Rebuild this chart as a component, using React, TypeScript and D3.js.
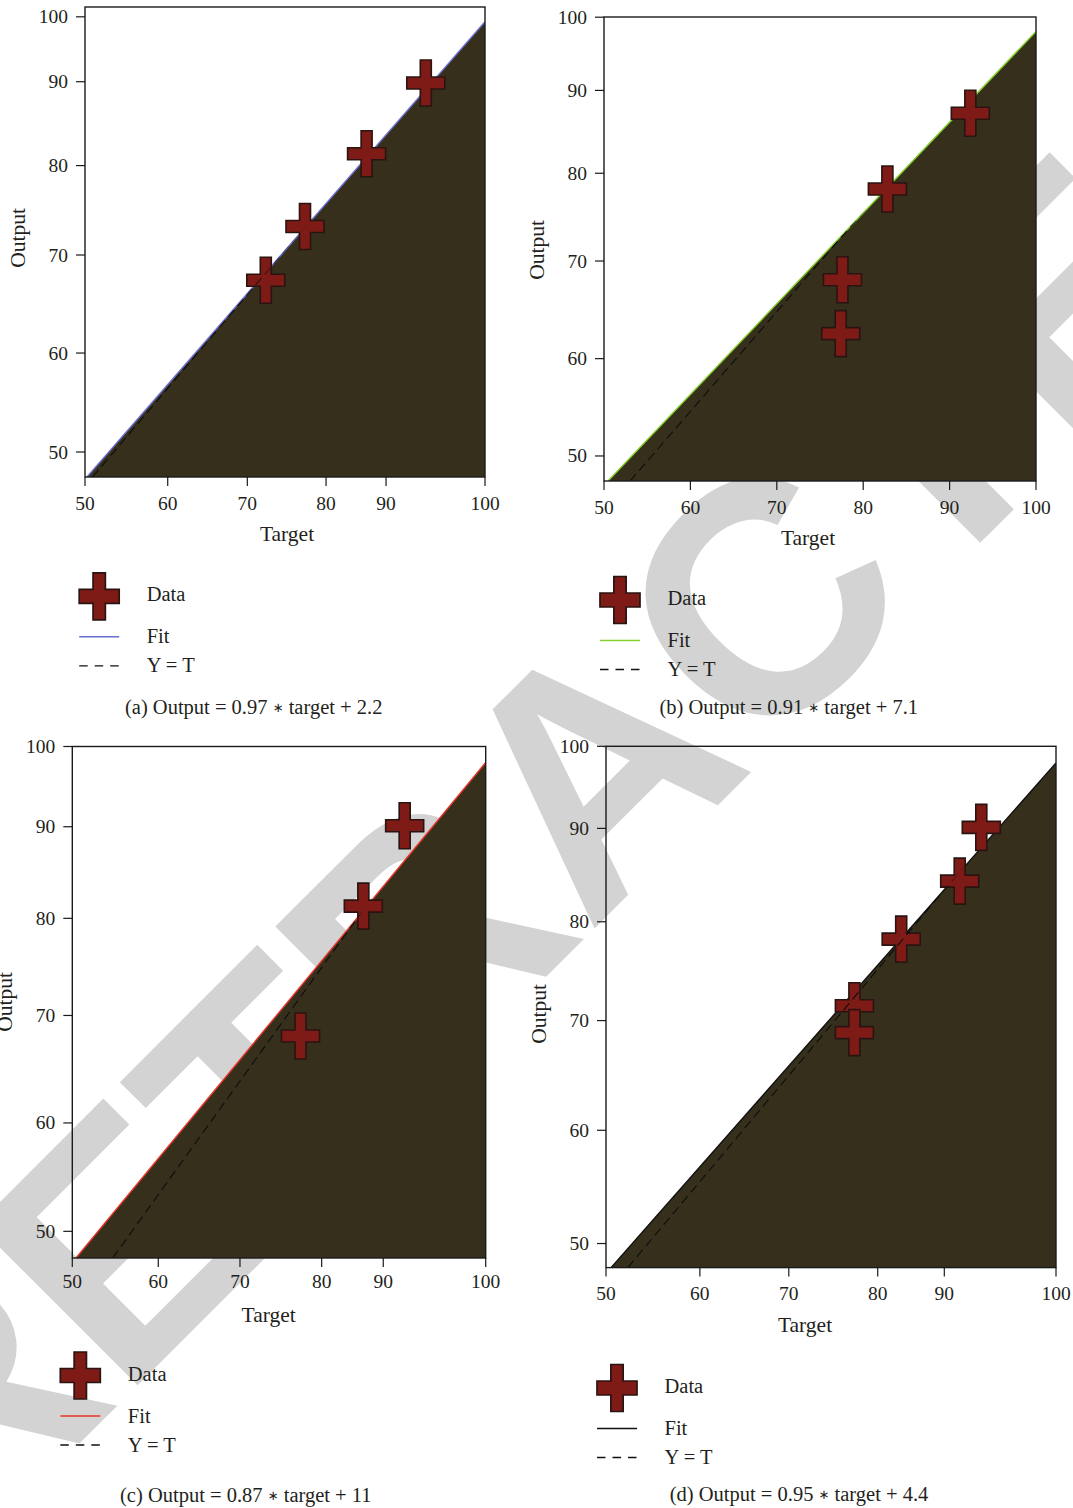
import React from 'react';
import * as d3 from 'd3';

// ---- Regression results for the four sub-figures ----
const panelKeys = ['a', 'b', 'c', 'd'];
const fitSlope = [0.97, 0.91, 0.87, 0.95];
const fitIntercept = [2.2, 7.1, 11, 4.4];

// Observed samples: target value and network output
const targetA = [72.6, 77.5, 85.2, 92.6];
const outputA = [71.8, 77.5, 85.2, 92.7];
const targetB = [92.4, 82.8, 77.6, 77.4];
const outputB = [89.9, 82.3, 73.2, 67.8];
const targetC = [90.2, 85.2, 77.6];
const outputC = [92.5, 85.5, 74.2];
const targetD = [91.7, 89.3, 82.8, 77.6, 77.6];
const outputD = [93.4, 88.4, 83.0, 76.8, 74.3];

// Axis extents in data units
const xExtent = [50, 100];
const yExtentA = [50.94, 100.76];
const yExtentB = [53.02, 99.55];
const yExtentC = [54.89, 99.39];
const yExtentD = [52.43, 100.95];

// Tick labels and the data value at which each label is printed
const tickLabels = ['50', '60', '70', '80', '90', '100'];
const xTickAtA = [50, 60.34, 70.29, 80.13, 87.63, 100];
const xTickAtB = [50, 60, 70, 80, 90, 100];
const xTickAtC = [50, 60.4, 70.28, 80.16, 87.61, 100];
const xTickAtD = [50, 60.43, 70.31, 80.19, 87.59, 100];
const yTickAtA = [53.59, 64.08, 74.47, 83.95, 92.84, 99.72];
const yTickAtB = [55.53, 65.29, 75.08, 83.88, 92.19, 99.53];
const yTickAtC = [57.21, 66.64, 75.99, 84.44, 92.41, 99.39];
const yTickAtD = [54.67, 65.21, 75.42, 84.62, 93.31, 100.95];

const legendLabels = ['Data', 'Fit', 'Y = T'];
const xTitle = 'Target';
const yTitle = 'Output';
const stamp = 'RETRACTED';

// ---- Layout and styling ----
const W = 1073;
const H = 1508;
const frames = [
  { left: 85, right: 485, top: 7, bottom: 477, titleX: 287, titleY: 238, legendX: 99.2, legendY: 596.3, captionX: 253.7, captionY: 706.7, xLabelGap: 26 },
  { left: 604, right: 1036, top: 17, bottom: 481, titleX: 808, titleY: 250, legendX: 620, legendY: 600, captionX: 788.8, captionY: 706.7, xLabelGap: 26 },
  { left: 72.3, right: 485.7, top: 746.5, bottom: 1258, titleX: 268.7, titleY: 1002, legendX: 80.3, legendY: 1375.5, captionX: 245.8, captionY: 1495, xLabelGap: 23 },
  { left: 606, right: 1056, top: 746.3, bottom: 1267.6, titleX: 805, titleY: 1014, legendX: 617, legendY: 1388, captionX: 799, captionY: 1494, xLabelGap: 26 },
];
const fitColors = ['#6a6ed2', '#84cf2e', '#e8352c', '#111111'];
const fillColor = '#352f1c';
const crossFill = '#7e1b17';
const crossStroke = '#2a1411';
const inkColor = '#231f20';
const stampColor = '#d3d3d3';
const serif = "'Liberation Serif', 'Times New Roman', serif";

const yExtents = [yExtentA, yExtentB, yExtentC, yExtentD];
const xTickAts = [xTickAtA, xTickAtB, xTickAtC, xTickAtD];
const yTickAts = [yTickAtA, yTickAtB, yTickAtC, yTickAtD];
const targetSets = [targetA, targetB, targetC, targetD];
const outputSets = [outputA, outputB, outputC, outputD];

// Plus-shaped marker centred on (0,0)
function crossPath(w: number, h: number, vBar: number, hBar: number) {
  const a = vBar / 2, b = hBar / 2, cx = w / 2, cy = h / 2;
  return `M${-a},${-cy}H${a}V${-b}H${cx}V${b}H${a}V${cy}H${-a}V${b}H${-cx}V${-b}H${-a}Z`;
}
const markerD = crossPath(38, 46, 11, 12);
const legendMarkerD = crossPath(40, 47, 12.3, 14);

function Panel({ i }: { i: number }) {
  const key = panelKeys[i];
  const f = frames[i];
  const slope = fitSlope[i];
  const intercept = fitIntercept[i];
  const yExt = yExtents[i];
  const x = d3.scaleLinear().domain(xExtent).range([f.left, f.right]);
  const y = d3.scaleLinear().domain(yExt).range([f.bottom, f.top]);
  const fit = (t: number) => slope * t + intercept;

  const tStart = Math.max(xExtent[0], (yExt[0] - intercept) / slope);
  const span = [tStart, xExtent[1]];
  const areaD = d3.area<number>().x((t) => x(t)).y0(y(yExt[0])).y1((t) => y(fit(t)))(span) || '';
  const fitD = d3.line<number>().x((t) => x(t)).y((t) => y(fit(t)))(span) || '';
  const identD = d3.line<number>().x((t) => x(t)).y((t) => y(t))([Math.max(xExtent[0], yExt[0]), xExtent[1]]) || '';

  const pts = targetSets[i].map((t, k) => ({ t, o: outputSets[i][k] }));
  const frameClip = `frame-${key}`;
  const underClip = `under-${key}`;

  return (
    <g>
      <defs>
        <clipPath id={frameClip}>
          <rect x={f.left} y={f.top} width={f.right - f.left} height={f.bottom - f.top} />
        </clipPath>
        <clipPath id={underClip}>
          <path d={areaD} />
        </clipPath>
      </defs>

      <g clipPath={`url(#${frameClip})`}>
        <path d={areaD} fill={fillColor} />
        <path d={fitD} fill="none" stroke={fitColors[i]} strokeWidth={1.4} />
        {pts.map((p, k) => (
          <path key={k} d={markerD} transform={`translate(${x(p.t)},${y(p.o)})`} fill={crossFill} stroke={crossStroke} strokeWidth={1.6} />
        ))}
        <path d={identD} fill="none" stroke="#0d0d0d" strokeWidth={1.1} strokeDasharray="9 5" clipPath={`url(#${underClip})`} />
      </g>

      <rect x={f.left} y={f.top} width={f.right - f.left} height={f.bottom - f.top} fill="none" stroke="#1a1a1a" strokeWidth={1.4} />

      {/* y axis */}
      {yTickAts[i].map((v, k) => (
        <g key={`y${k}`}>
          <line x1={f.left - 9} x2={f.left} y1={y(v)} y2={y(v)} stroke="#1a1a1a" strokeWidth={1.2} />
          <text x={f.left - 17} y={y(v)} textAnchor="end" dominantBaseline="central" fontFamily={serif} fontSize={19.5} fill={inkColor}>{tickLabels[k]}</text>
        </g>
      ))}
      {/* x axis */}
      {xTickAts[i].map((v, k) => (
        <g key={`x${k}`}>
          <line x1={x(v)} x2={x(v)} y1={f.bottom} y2={f.bottom + 9} stroke="#1a1a1a" strokeWidth={1.2} />
          <text x={x(v)} y={f.bottom + f.xLabelGap} textAnchor="middle" dominantBaseline="central" fontFamily={serif} fontSize={19.5} fill={inkColor}>{tickLabels[k]}</text>
        </g>
      ))}

      <text x={f.titleX} y={f.bottom + 57} textAnchor="middle" dominantBaseline="central" fontFamily={serif} fontSize={21.5} fill={inkColor}>{xTitle}</text>
      <text transform={`translate(${f.left - 67},${f.titleY}) rotate(-90)`} textAnchor="middle" dominantBaseline="central" fontFamily={serif} fontSize={21.5} fill={inkColor}>{yTitle}</text>

      {/* legend */}
      <g transform={`translate(${f.legendX},${f.legendY})`}>
        <path d={legendMarkerD} fill={crossFill} stroke={crossStroke} strokeWidth={1.7} />
        <text x={47.5} y={-2} dominantBaseline="central" fontFamily={serif} fontSize={20.5} fill={inkColor}>{legendLabels[0]}</text>
        <line x1={-20} x2={20} y1={40.5} y2={40.5} stroke={fitColors[i]} strokeWidth={1.4} />
        <text x={47.5} y={40} dominantBaseline="central" fontFamily={serif} fontSize={20.5} fill={inkColor}>{legendLabels[1]}</text>
        <line x1={-20} x2={20} y1={69.5} y2={69.5} stroke="#111" strokeWidth={1.3} strokeDasharray="8.5 7" />
        <text x={47.5} y={69} dominantBaseline="central" fontFamily={serif} fontSize={20.5} fill={inkColor}>{legendLabels[2]}</text>
      </g>

      <text x={f.captionX} y={f.captionY} textAnchor="middle" dominantBaseline="central" fontFamily={serif} fontSize={20.5} fill={inkColor}>
        {`(${key}) Output = ${slope} `}
        <tspan fontFamily="'DejaVu Sans', sans-serif" fontSize={13}>{'\u2217'}</tspan>
        {` target + ${intercept}`}
      </text>
    </g>
  );
}

export default function App() {
  return (
    <svg width={W} height={H} viewBox={`0 0 ${W} ${H}`} style={{ position: 'absolute', left: 0, top: 0, background: '#ffffff' }}>
      <text
        transform="translate(673,850) rotate(-45)"
        textAnchor="middle"
        fontFamily="'Liberation Sans', Arial, sans-serif"
        fontWeight="bold"
        fontSize={330}
        fill={stampColor}
      >
        {stamp}
      </text>
      {panelKeys.map((k, i) => (
        <Panel key={k} i={i} />
      ))}
    </svg>
  );
}
